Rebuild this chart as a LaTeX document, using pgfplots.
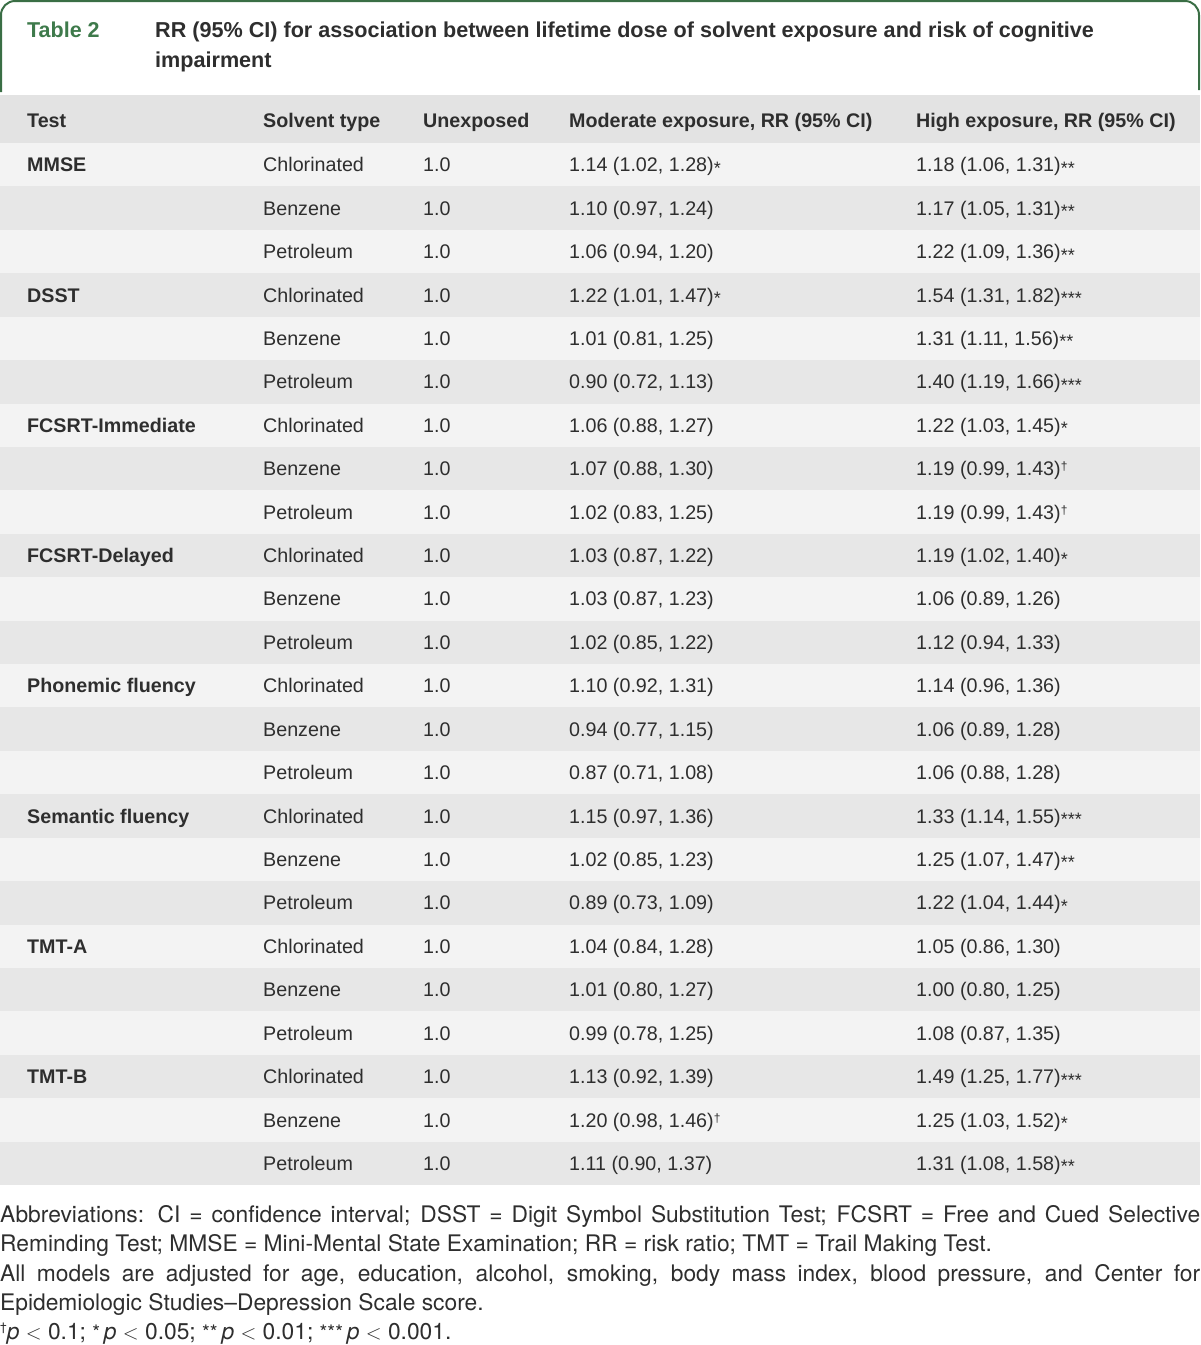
\documentclass[border=0pt]{standalone}
\usepackage{pgfplots}
\pgfplotsset{compat=1.18}
\usepackage{fontspec}
\setmainfont{Liberation Sans}
\newfontfamily\footfont{TeX Gyre Heros}
\definecolor{tgreen}{HTML}{3E7A4B}
\definecolor{bordergreen}{HTML}{3A6E45}
\definecolor{txt}{HTML}{2E2E2E}
\definecolor{hdr}{HTML}{E3E3E3}
\definecolor{rowA}{HTML}{F3F3F3}
\definecolor{rowB}{HTML}{E7E7E7}
\newcommand{\sig}[1]{{\fontsize{18}{18}\selectfont\raisebox{-2.5pt}{#1}}}
\newcommand{\dg}{{\fontsize{12}{12}\selectfont\raisebox{5pt}{†}}}
\newcommand{\tfont}{\fontsize{19.7}{22}\selectfont}
\newcommand{\row}[5]{%
  \node[anchor=base west,inner sep=0pt,text=txt,font=\tfont\bfseries] at (axis cs:27,#1+7) {#2};
  \node[anchor=base west,inner sep=0pt,text=txt,font=\tfont] at (axis cs:263,#1+7) {#3};
  \node[anchor=base west,inner sep=0pt,text=txt,font=\tfont] at (axis cs:423,#1+7) {1.0};
  \node[anchor=base west,inner sep=0pt,text=txt,font=\tfont] at (axis cs:569,#1+7) {#4};
  \node[anchor=base west,inner sep=0pt,text=txt,font=\tfont] at (axis cs:916,#1+7) {#5};
}
\newcommand{\fs}{\footfont\fontsize{22.8}{24}\selectfont}
\begin{document}
\begin{tikzpicture}
\begin{axis}[width=1200pt,height=1345pt,scale only axis,
  xmin=0,xmax=1200,ymin=0,ymax=1345,y dir=reverse,
  axis lines=none,clip=false]
\addplot[draw=none,forget plot] coordinates {(0,0) (1200,1345)};
\path (axis cs:0,0) rectangle (axis cs:1200,1345);
% border of the caption box
\draw[bordergreen,line width=2pt,rounded corners=14pt] (axis cs:1,92) -- (axis cs:1,1) -- (axis cs:1199,1) -- (axis cs:1199,90);
\node[anchor=base west,inner sep=0pt,text=tgreen,font=\fontsize{21.5}{24}\selectfont\bfseries] at (axis cs:27,37) {Table 2};
\node[anchor=base west,inner sep=0pt,text=txt,font=\fontsize{21.6}{24}\selectfont\bfseries] at (axis cs:155,37) {RR (95\% CI) for association between lifetime dose of solvent exposure and risk of cognitive};
\node[anchor=base west,inner sep=0pt,text=txt,font=\fontsize{21.6}{24}\selectfont\bfseries] at (axis cs:155,67) {impairment};
% header band
\fill[hdr] (axis cs:0,95) rectangle (axis cs:1200,143);
% stripes
\pgfplotsinvokeforeach{1,...,24}{
  \ifodd#1
    \fill[rowA] (axis cs:0,{143+(#1-1)*43.42}) rectangle (axis cs:1200,{143+#1*43.42});
  \else
    \fill[rowB] (axis cs:0,{143+(#1-1)*43.42}) rectangle (axis cs:1200,{143+#1*43.42});
  \fi
}
% header text
\node[anchor=base west,inner sep=0pt,text=txt,font=\tfont\bfseries] at (axis cs:27,127) {Test};
\node[anchor=base west,inner sep=0pt,text=txt,font=\tfont\bfseries] at (axis cs:263,127) {Solvent type};
\node[anchor=base west,inner sep=0pt,text=txt,font=\tfont\bfseries] at (axis cs:423,127) {Unexposed};
\node[anchor=base west,inner sep=0pt,text=txt,font=\tfont\bfseries] at (axis cs:569,127) {Moderate exposure, RR (95\% CI)};
\node[anchor=base west,inner sep=0pt,text=txt,font=\tfont\bfseries] at (axis cs:916,127) {High exposure, RR (95\% CI)};
% rows
\row{164.7}{MMSE}{Chlorinated}{1.14 (1.02, 1.28)\sig{*}}{1.18 (1.06, 1.31)\sig{**}}
\row{208.1}{}{Benzene}{1.10 (0.97, 1.24)}{1.17 (1.05, 1.31)\sig{**}}
\row{251.6}{}{Petroleum}{1.06 (0.94, 1.20)}{1.22 (1.09, 1.36)\sig{**}}
\row{295.0}{DSST}{Chlorinated}{1.22 (1.01, 1.47)\sig{*}}{1.54 (1.31, 1.82)\sig{***}}
\row{338.4}{}{Benzene}{1.01 (0.81, 1.25)}{1.31 (1.11, 1.56)\sig{**}}
\row{381.8}{}{Petroleum}{0.90 (0.72, 1.13)}{1.40 (1.19, 1.66)\sig{***}}
\row{425.2}{FCSRT-Immediate}{Chlorinated}{1.06 (0.88, 1.27)}{1.22 (1.03, 1.45)\sig{*}}
\row{468.7}{}{Benzene}{1.07 (0.88, 1.30)}{1.19 (0.99, 1.43)\dg}
\row{512.1}{}{Petroleum}{1.02 (0.83, 1.25)}{1.19 (0.99, 1.43)\dg}
\row{555.5}{FCSRT-Delayed}{Chlorinated}{1.03 (0.87, 1.22)}{1.19 (1.02, 1.40)\sig{*}}
\row{598.9}{}{Benzene}{1.03 (0.87, 1.23)}{1.06 (0.89, 1.26)}
\row{642.3}{}{Petroleum}{1.02 (0.85, 1.22)}{1.12 (0.94, 1.33)}
\row{685.8}{Phonemic fluency}{Chlorinated}{1.10 (0.92, 1.31)}{1.14 (0.96, 1.36)}
\row{729.2}{}{Benzene}{0.94 (0.77, 1.15)}{1.06 (0.89, 1.28)}
\row{772.6}{}{Petroleum}{0.87 (0.71, 1.08)}{1.06 (0.88, 1.28)}
\row{816.0}{Semantic fluency}{Chlorinated}{1.15 (0.97, 1.36)}{1.33 (1.14, 1.55)\sig{***}}
\row{859.4}{}{Benzene}{1.02 (0.85, 1.23)}{1.25 (1.07, 1.47)\sig{**}}
\row{902.9}{}{Petroleum}{0.89 (0.73, 1.09)}{1.22 (1.04, 1.44)\sig{*}}
\row{946.3}{TMT-A}{Chlorinated}{1.04 (0.84, 1.28)}{1.05 (0.86, 1.30)}
\row{989.7}{}{Benzene}{1.01 (0.80, 1.27)}{1.00 (0.80, 1.25)}
\row{1033.1}{}{Petroleum}{0.99 (0.78, 1.25)}{1.08 (0.87, 1.35)}
\row{1076.5}{TMT-B}{Chlorinated}{1.13 (0.92, 1.39)}{1.49 (1.25, 1.77)\sig{***}}
\row{1120.0}{}{Benzene}{1.20 (0.98, 1.46)\dg}{1.25 (1.03, 1.52)\sig{*}}
\row{1163.4}{}{Petroleum}{1.11 (0.90, 1.37)}{1.31 (1.08, 1.58)\sig{**}}
% footnotes
\node[anchor=base west,inner sep=0pt,text=txt,font=\fs] at (axis cs:0,1222) {\makebox[1200pt][s]{Abbreviations: CI = confidence interval; DSST = Digit Symbol Substitution Test; FCSRT = Free and Cued Selective}};
\node[anchor=base west,inner sep=0pt,text=txt,font=\fs] at (axis cs:0,1251) {Reminding Test; MMSE = Mini-Mental State Examination; RR = risk ratio; TMT = Trail Making Test.};
\node[anchor=base west,inner sep=0pt,text=txt,font=\fs] at (axis cs:0,1281) {\makebox[1200pt][s]{All models are adjusted for age, education, alcohol, smoking, body mass index, blood pressure, and Center for}};
\node[anchor=base west,inner sep=0pt,text=txt,font=\fs] at (axis cs:0,1310) {Epidemiologic Studies–Depression Scale score.};
\node[anchor=base west,inner sep=0pt,text=txt,font=\fs] at (axis cs:0,1339) {{\fontsize{12}{12}\selectfont\raisebox{8pt}{†}}\textit{p} $<$ 0.1; {\fontsize{20}{20}\selectfont\raisebox{0pt}{*}}\,\textit{p} $<$ 0.05; {\fontsize{20}{20}\selectfont\raisebox{0pt}{**}}\,\textit{p} $<$ 0.01; {\fontsize{20}{20}\selectfont\raisebox{0pt}{***}}\,\textit{p} $<$ 0.001.};
\end{axis}
\end{tikzpicture}
\end{document}
